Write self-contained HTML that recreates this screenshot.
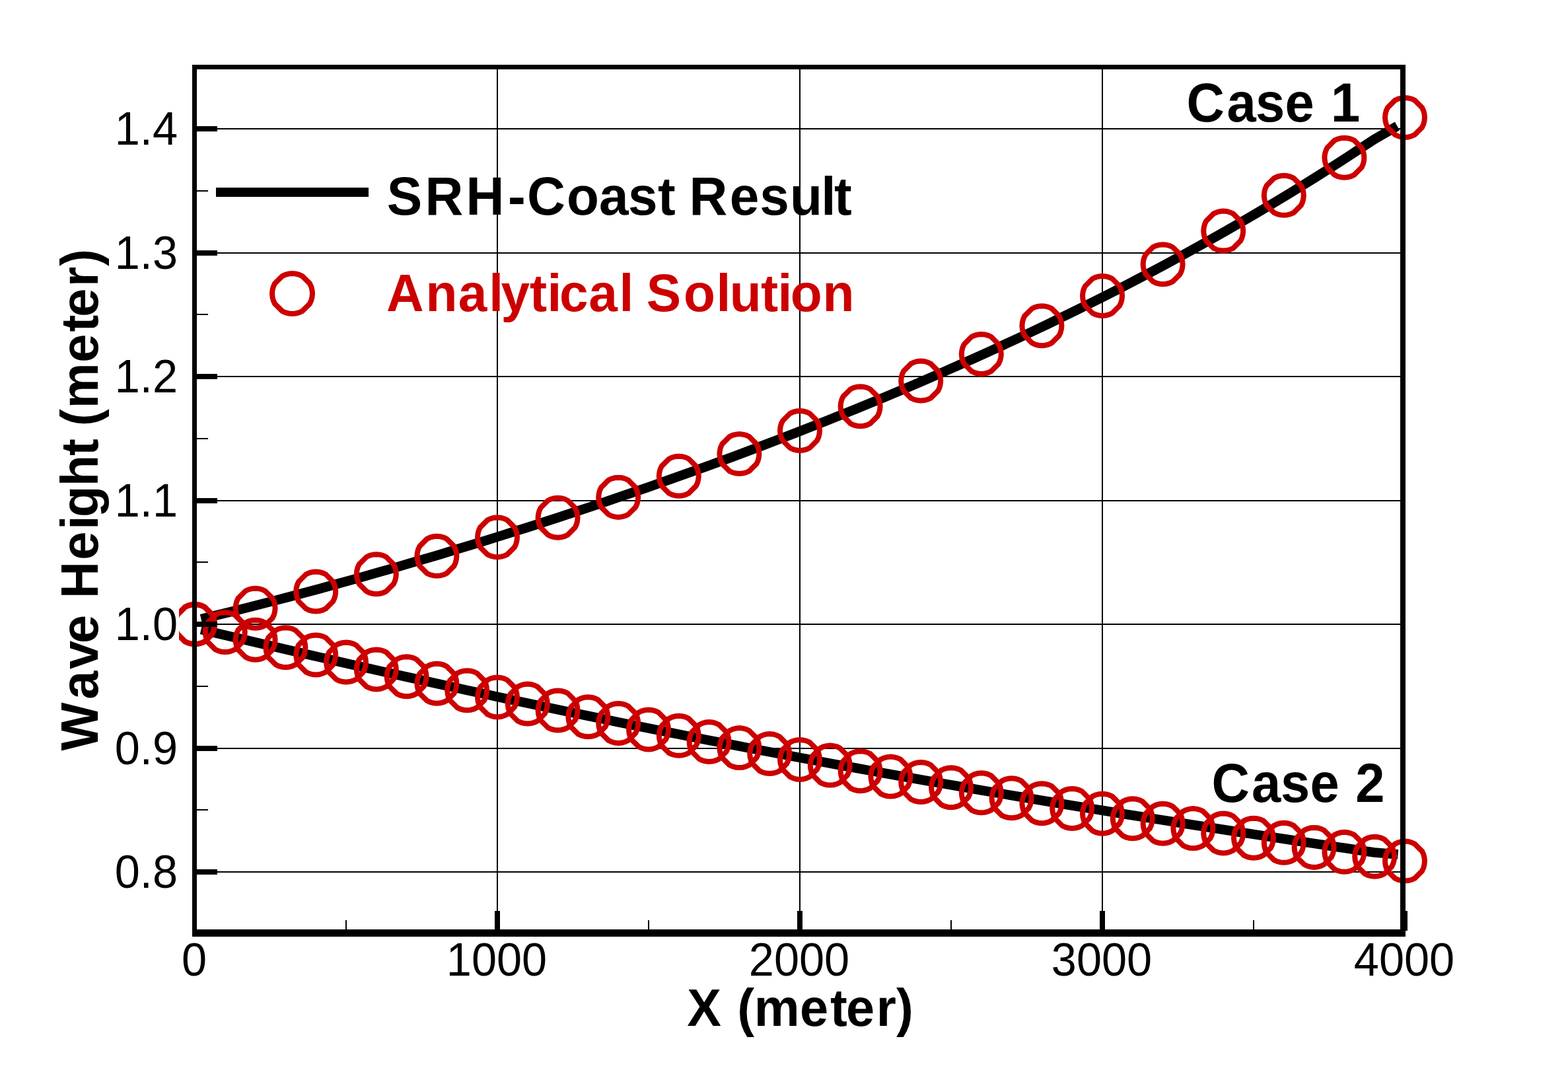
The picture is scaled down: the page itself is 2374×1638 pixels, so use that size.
<!DOCTYPE html><html><head><meta charset="utf-8"><title>Wave Height</title><style>html,body{margin:0;padding:0;background:#fff;width:2374px;height:1638px;overflow:hidden}svg{display:block}text{font-family:"Liberation Sans",Arial,sans-serif}</style></head><body>
<svg width="2374" height="1638" viewBox="0 0 2374 1638">
<rect width="2374" height="1638" fill="#fff"/>
<g fill="#000"><rect x="752.0" y="105" width="2" height="1302"/><rect x="1210.0" y="105" width="2" height="1302"/><rect x="1668.0" y="105" width="2" height="1302"/><rect x="298" y="194" width="1822" height="2"/><rect x="298" y="382" width="1822" height="2"/><rect x="298" y="569" width="1822" height="2"/><rect x="298" y="757" width="1822" height="2"/><rect x="298" y="944" width="1822" height="2"/><rect x="298" y="1132" width="1822" height="2"/><rect x="298" y="1319" width="1822" height="2"/></g>
<clipPath id="cp"><rect x="271" y="0" width="2103" height="1638"/></clipPath>
<polyline points="304.5,937.1 327.0,931.6 349.5,926.1 372.0,920.5 394.4,914.8 416.9,909.0 439.4,903.1 461.9,897.1 484.4,891.1 506.9,884.9 529.3,878.7 551.8,872.5 574.3,866.1 596.8,859.7 619.3,853.1 641.8,846.5 664.3,839.9 686.7,833.1 709.2,826.3 731.7,819.4 754.2,812.4 776.7,805.3 799.2,798.2 821.7,791.0 844.1,783.7 866.6,776.3 889.1,768.9 911.6,761.3 934.1,753.7 956.6,746.0 979.0,738.3 1001.5,730.4 1024.0,722.4 1046.5,714.4 1069.0,706.3 1091.5,698.1 1114.0,689.8 1136.4,681.4 1158.9,672.9 1181.4,664.3 1203.9,655.6 1226.4,646.8 1248.9,638.0 1271.3,629.0 1293.8,619.9 1316.3,610.7 1338.8,601.4 1361.3,591.9 1383.8,582.4 1406.3,572.7 1428.7,562.9 1451.2,553.0 1473.7,543.0 1496.2,532.8 1518.7,522.5 1541.2,512.1 1563.6,501.5 1586.1,490.8 1608.6,479.9 1631.1,468.9 1653.6,457.8 1676.1,446.4 1698.6,434.9 1721.0,423.3 1743.5,411.5 1766.0,399.5 1788.5,387.3 1811.0,374.9 1833.5,362.4 1856.0,349.7 1878.4,336.7 1900.9,323.6 1923.4,310.3 1945.9,296.7 1968.4,283.0 1990.9,269.0 2013.3,254.8 2035.8,240.4 2058.3,225.7 2080.8,210.8 2115.5,190.9" fill="none" stroke="#000" stroke-width="14.6" stroke-linejoin="round"/>
<polyline points="304.5,952.9 327.0,958.3 349.5,963.6 372.0,968.9 394.4,974.2 416.9,979.4 439.4,984.6 461.9,989.8 484.4,995.0 506.9,1000.2 529.3,1005.3 551.8,1010.4 574.3,1015.5 596.8,1020.5 619.3,1025.5 641.8,1030.5 664.3,1035.5 686.7,1040.4 709.2,1045.3 731.7,1050.2 754.2,1055.1 776.7,1059.9 799.2,1064.7 821.7,1069.4 844.1,1074.2 866.6,1078.9 889.1,1083.5 911.6,1088.2 934.1,1092.8 956.6,1097.4 979.0,1101.9 1001.5,1106.4 1024.0,1110.9 1046.5,1115.4 1069.0,1119.8 1091.5,1124.2 1114.0,1128.5 1136.4,1132.9 1158.9,1137.2 1181.4,1141.4 1203.9,1145.7 1226.4,1149.9 1248.9,1154.1 1271.3,1158.2 1293.8,1162.3 1316.3,1166.4 1338.8,1170.5 1361.3,1174.5 1383.8,1178.5 1406.3,1182.5 1428.7,1186.4 1451.2,1190.3 1473.7,1194.2 1496.2,1198.1 1518.7,1201.9 1541.2,1205.7 1563.6,1209.5 1586.1,1213.3 1608.6,1217.0 1631.1,1220.7 1653.6,1224.4 1676.1,1228.0 1698.6,1231.7 1721.0,1235.3 1743.5,1238.9 1766.0,1242.4 1788.5,1246.0 1811.0,1249.5 1833.5,1253.0 1856.0,1256.5 1878.4,1260.0 1900.9,1263.4 1923.4,1266.9 1945.9,1270.3 1968.4,1273.7 1990.9,1277.1 2013.3,1280.5 2035.8,1283.8 2058.3,1287.2 2080.8,1290.5 2116.5,1293.5" fill="none" stroke="#000" stroke-width="14.6" stroke-linejoin="round"/>
<g fill="none" stroke="#cc0000" stroke-width="8" stroke-linejoin="miter" clip-path="url(#cp)"><path d="M325.0 944.8L324.5 939.6L323.2 934.6L321.0 929.8L310.0 918.9L305.3 916.6L300.2 915.3L295.0 914.8L289.8 915.3L284.7 916.6L280.0 918.9L269.0 929.8L266.8 934.6L265.5 939.6L265.0 944.8L265.5 950.0L266.8 955.1L269.0 959.8L280.0 970.8L284.7 973.0L289.8 974.4L295.0 974.8L300.2 974.4L305.3 973.0L310.0 970.8L321.0 959.8L323.2 955.1L324.5 950.0Z"/><path d="M416.6 920.7L416.1 915.5L414.8 910.4L412.6 905.7L401.6 894.7L396.9 892.5L391.8 891.1L386.6 890.7L381.4 891.1L376.3 892.5L371.6 894.7L360.6 905.7L358.4 910.4L357.1 915.5L356.6 920.7L357.1 925.9L358.4 930.9L360.6 935.7L371.6 946.7L376.3 948.9L381.4 950.2L386.6 950.7L391.8 950.2L396.9 948.9L401.6 946.7L412.6 935.7L414.8 930.9L416.1 925.9Z"/><path d="M508.2 895.5L507.7 890.3L506.4 885.2L504.2 880.5L493.2 869.5L488.5 867.3L483.4 865.9L478.2 865.5L473.0 865.9L467.9 867.3L463.2 869.5L452.2 880.5L450.0 885.2L448.7 890.3L448.2 895.5L448.7 900.7L450.0 905.7L452.2 910.5L463.2 921.4L467.9 923.7L473.0 925.0L478.2 925.5L483.4 925.0L488.5 923.7L493.2 921.4L504.2 910.5L506.4 905.7L507.7 900.7Z"/><path d="M599.8 869.2L599.3 864.0L598.0 858.9L595.8 854.2L584.8 843.2L580.1 841.0L575.0 839.6L569.8 839.2L564.6 839.6L559.5 841.0L554.8 843.2L543.8 854.2L541.6 858.9L540.3 864.0L539.8 869.2L540.3 874.4L541.6 879.4L543.8 884.2L554.8 895.2L559.5 897.4L564.6 898.7L569.8 899.2L575.0 898.7L580.1 897.4L584.8 895.2L595.8 884.2L598.0 879.4L599.3 874.4Z"/><path d="M691.4 841.8L690.9 836.6L689.6 831.6L687.4 826.8L676.4 815.8L671.7 813.6L666.6 812.3L661.4 811.8L656.2 812.3L651.1 813.6L646.4 815.8L635.4 826.8L633.2 831.6L631.9 836.6L631.4 841.8L631.9 847.0L633.2 852.1L635.4 856.8L646.4 867.8L651.1 870.0L656.2 871.4L661.4 871.8L666.6 871.4L671.7 870.0L676.4 867.8L687.4 856.8L689.6 852.1L690.9 847.0Z"/><path d="M783.0 813.4L782.5 808.1L781.2 803.1L779.0 798.4L768.0 787.4L763.3 785.2L758.2 783.8L753.0 783.4L747.8 783.8L742.7 785.2L738.0 787.4L727.0 798.4L724.8 803.1L723.5 808.1L723.0 813.4L723.5 818.6L724.8 823.6L727.0 828.4L738.0 839.3L742.7 841.5L747.8 842.9L753.0 843.4L758.2 842.9L763.3 841.5L768.0 839.3L779.0 828.4L781.2 823.6L782.5 818.6Z"/><path d="M874.6 783.7L874.1 778.5L872.8 773.5L870.6 768.7L859.6 757.7L854.9 755.5L849.8 754.2L844.6 753.7L839.4 754.2L834.3 755.5L829.6 757.7L818.6 768.7L816.4 773.5L815.1 778.5L814.6 783.7L815.1 788.9L816.4 794.0L818.6 798.7L829.6 809.7L834.3 811.9L839.4 813.3L844.6 813.7L849.8 813.3L854.9 811.9L859.6 809.7L870.6 798.7L872.8 794.0L874.1 788.9Z"/><path d="M966.2 752.9L965.7 747.7L964.4 742.6L962.2 737.9L951.2 726.9L946.5 724.7L941.4 723.3L936.2 722.9L931.0 723.3L925.9 724.7L921.2 726.9L910.2 737.9L908.0 742.6L906.7 747.7L906.2 752.9L906.7 758.1L908.0 763.1L910.2 767.9L921.2 778.8L925.9 781.1L931.0 782.4L936.2 782.9L941.4 782.4L946.5 781.1L951.2 778.8L962.2 767.9L964.4 763.1L965.7 758.1Z"/><path d="M1057.8 720.7L1057.3 715.5L1056.0 710.4L1053.8 705.7L1042.8 694.7L1038.1 692.5L1033.0 691.1L1027.8 690.7L1022.6 691.1L1017.5 692.5L1012.8 694.7L1001.8 705.7L999.6 710.4L998.3 715.5L997.8 720.7L998.3 725.9L999.6 731.0L1001.8 735.7L1012.8 746.7L1017.5 748.9L1022.6 750.2L1027.8 750.7L1033.0 750.2L1038.1 748.9L1042.8 746.7L1053.8 735.7L1056.0 731.0L1057.3 725.9Z"/><path d="M1149.4 687.1L1148.9 681.9L1147.6 676.8L1145.4 672.1L1134.4 661.1L1129.7 658.9L1124.6 657.6L1119.4 657.1L1114.2 657.6L1109.1 658.9L1104.4 661.1L1093.4 672.1L1091.2 676.8L1089.9 681.9L1089.4 687.1L1089.9 692.3L1091.2 697.4L1093.4 702.1L1104.4 713.1L1109.1 715.3L1114.2 716.6L1119.4 717.1L1124.6 716.6L1129.7 715.3L1134.4 713.1L1145.4 702.1L1147.6 697.4L1148.9 692.3Z"/><path d="M1241.0 652.0L1240.5 646.8L1239.2 641.7L1237.0 637.0L1226.0 626.0L1221.3 623.8L1216.2 622.4L1211.0 622.0L1205.8 622.4L1200.7 623.8L1196.0 626.0L1185.0 637.0L1182.8 641.7L1181.5 646.8L1181.0 652.0L1181.5 657.2L1182.8 662.2L1185.0 667.0L1196.0 678.0L1200.7 680.2L1205.8 681.5L1211.0 682.0L1216.2 681.5L1221.3 680.2L1226.0 678.0L1237.0 667.0L1239.2 662.2L1240.5 657.2Z"/><path d="M1332.6 615.2L1332.1 610.0L1330.8 604.9L1328.6 600.2L1317.6 589.2L1312.9 587.0L1307.8 585.6L1302.6 585.2L1297.4 585.6L1292.3 587.0L1287.6 589.2L1276.6 600.2L1274.4 604.9L1273.1 610.0L1272.6 615.2L1273.1 620.4L1274.4 625.4L1276.6 630.2L1287.6 641.2L1292.3 643.4L1297.4 644.7L1302.6 645.2L1307.8 644.7L1312.9 643.4L1317.6 641.2L1328.6 630.2L1330.8 625.4L1332.1 620.4Z"/><path d="M1424.2 576.6L1423.7 571.4L1422.4 566.3L1420.2 561.6L1409.2 550.6L1404.5 548.4L1399.4 547.0L1394.2 546.6L1389.0 547.0L1383.9 548.4L1379.2 550.6L1368.2 561.6L1366.0 566.3L1364.7 571.4L1364.2 576.6L1364.7 581.8L1366.0 586.8L1368.2 591.6L1379.2 602.6L1383.9 604.8L1389.0 606.1L1394.2 606.6L1399.4 606.1L1404.5 604.8L1409.2 602.6L1420.2 591.6L1422.4 586.8L1423.7 581.8Z"/><path d="M1515.8 536.0L1515.3 530.8L1514.0 525.7L1511.8 521.0L1500.8 510.0L1496.1 507.8L1491.0 506.4L1485.8 506.0L1480.6 506.4L1475.5 507.8L1470.8 510.0L1459.8 521.0L1457.6 525.7L1456.3 530.8L1455.8 536.0L1456.3 541.2L1457.6 546.2L1459.8 551.0L1470.8 561.9L1475.5 564.2L1480.6 565.5L1485.8 566.0L1491.0 565.5L1496.1 564.2L1500.8 561.9L1511.8 551.0L1514.0 546.2L1515.3 541.2Z"/><path d="M1607.4 493.2L1606.9 488.0L1605.6 482.9L1603.4 478.2L1592.4 467.2L1587.7 465.0L1582.6 463.6L1577.4 463.2L1572.2 463.6L1567.1 465.0L1562.4 467.2L1551.4 478.2L1549.2 482.9L1547.9 488.0L1547.4 493.2L1547.9 498.4L1549.2 503.4L1551.4 508.2L1562.4 519.2L1567.1 521.4L1572.2 522.7L1577.4 523.2L1582.6 522.7L1587.7 521.4L1592.4 519.2L1603.4 508.2L1605.6 503.4L1606.9 498.4Z"/><path d="M1699.0 448.0L1698.5 442.8L1697.2 437.7L1695.0 433.0L1684.0 422.0L1679.3 419.8L1674.2 418.4L1669.0 418.0L1663.8 418.4L1658.7 419.8L1654.0 422.0L1643.0 433.0L1640.8 437.7L1639.5 442.8L1639.0 448.0L1639.5 453.2L1640.8 458.3L1643.0 463.0L1654.0 474.0L1658.7 476.2L1663.8 477.5L1669.0 478.0L1674.2 477.5L1679.3 476.2L1684.0 474.0L1695.0 463.0L1697.2 458.3L1698.5 453.2Z"/><path d="M1790.6 400.2L1790.1 395.0L1788.8 389.9L1786.6 385.2L1775.6 374.2L1770.9 372.0L1765.8 370.7L1760.6 370.2L1755.4 370.7L1750.3 372.0L1745.6 374.2L1734.6 385.2L1732.4 389.9L1731.1 395.0L1730.6 400.2L1731.1 405.4L1732.4 410.5L1734.6 415.2L1745.6 426.2L1750.3 428.4L1755.4 429.7L1760.6 430.2L1765.8 429.7L1770.9 428.4L1775.6 426.2L1786.6 415.2L1788.8 410.5L1790.1 405.4Z"/><path d="M1882.2 349.6L1881.7 344.4L1880.4 339.3L1878.2 334.6L1867.2 323.6L1862.5 321.4L1857.4 320.0L1852.2 319.6L1847.0 320.0L1841.9 321.4L1837.2 323.6L1826.2 334.6L1824.0 339.3L1822.7 344.4L1822.2 349.6L1822.7 354.8L1824.0 359.8L1826.2 364.6L1837.2 375.6L1841.9 377.8L1847.0 379.1L1852.2 379.6L1857.4 379.1L1862.5 377.8L1867.2 375.6L1878.2 364.6L1880.4 359.8L1881.7 354.8Z"/><path d="M1973.8 295.8L1973.3 290.6L1972.0 285.6L1969.8 280.8L1958.8 269.9L1954.1 267.6L1949.0 266.3L1943.8 265.8L1938.6 266.3L1933.5 267.6L1928.8 269.9L1917.8 280.8L1915.6 285.6L1914.3 290.6L1913.8 295.8L1914.3 301.0L1915.6 306.1L1917.8 310.8L1928.8 321.8L1933.5 324.0L1938.6 325.4L1943.8 325.8L1949.0 325.4L1954.1 324.0L1958.8 321.8L1969.8 310.8L1972.0 306.1L1973.3 301.0Z"/><path d="M2065.4 238.7L2064.9 233.5L2063.6 228.5L2061.4 223.7L2050.4 212.7L2045.7 210.5L2040.6 209.2L2035.4 208.7L2030.2 209.2L2025.1 210.5L2020.4 212.7L2009.4 223.7L2007.2 228.5L2005.9 233.5L2005.4 238.7L2005.9 243.9L2007.2 249.0L2009.4 253.7L2020.4 264.7L2025.1 266.9L2030.2 268.3L2035.4 268.7L2040.6 268.3L2045.7 266.9L2050.4 264.7L2061.4 253.7L2063.6 249.0L2064.9 243.9Z"/><path d="M2157.0 177.9L2156.5 172.7L2155.2 167.7L2153.0 162.9L2142.0 151.9L2137.3 149.7L2132.2 148.4L2127.0 147.9L2121.8 148.4L2116.7 149.7L2112.0 151.9L2101.0 162.9L2098.8 167.7L2097.5 172.7L2097.0 177.9L2097.5 183.1L2098.8 188.2L2101.0 192.9L2112.0 203.9L2116.7 206.1L2121.8 207.5L2127.0 207.9L2132.2 207.5L2137.3 206.1L2142.0 203.9L2153.0 192.9L2155.2 188.2L2156.5 183.1Z"/><path d="M325.0 945.3L324.5 940.1L323.2 935.1L321.0 930.3L310.0 919.3L305.3 917.1L300.2 915.8L295.0 915.3L289.8 915.8L284.7 917.1L280.0 919.3L269.0 930.3L266.8 935.1L265.5 940.1L265.0 945.3L265.5 950.5L266.8 955.6L269.0 960.3L280.0 971.3L284.7 973.5L289.8 974.9L295.0 975.3L300.2 974.9L305.3 973.5L310.0 971.3L321.0 960.3L323.2 955.6L324.5 950.5Z"/><path d="M370.8 957.1L370.3 951.9L369.0 946.9L366.8 942.1L355.8 931.1L351.1 928.9L346.0 927.6L340.8 927.1L335.6 927.6L330.5 928.9L325.8 931.1L314.8 942.1L312.6 946.9L311.3 951.9L310.8 957.1L311.3 962.3L312.6 967.4L314.8 972.1L325.8 983.1L330.5 985.3L335.6 986.7L340.8 987.1L346.0 986.7L351.1 985.3L355.8 983.1L366.8 972.1L369.0 967.4L370.3 962.3Z"/><path d="M416.6 968.7L416.1 963.5L414.8 958.5L412.6 953.7L401.6 942.8L396.9 940.5L391.8 939.2L386.6 938.7L381.4 939.2L376.3 940.5L371.6 942.8L360.6 953.7L358.4 958.5L357.1 963.5L356.6 968.7L357.1 973.9L358.4 979.0L360.6 983.7L371.6 994.7L376.3 996.9L381.4 998.3L386.6 998.7L391.8 998.3L396.9 996.9L401.6 994.7L412.6 983.7L414.8 979.0L416.1 973.9Z"/><path d="M462.4 980.2L461.9 975.0L460.6 969.9L458.4 965.2L447.4 954.2L442.7 952.0L437.6 950.6L432.4 950.2L427.2 950.6L422.1 952.0L417.4 954.2L406.4 965.2L404.2 969.9L402.9 975.0L402.4 980.2L402.9 985.4L404.2 990.4L406.4 995.2L417.4 1006.2L422.1 1008.4L427.2 1009.7L432.4 1010.2L437.6 1009.7L442.7 1008.4L447.4 1006.2L458.4 995.2L460.6 990.4L461.9 985.4Z"/><path d="M508.2 991.4L507.7 986.2L506.4 981.2L504.2 976.4L493.2 965.4L488.5 963.2L483.4 961.9L478.2 961.4L473.0 961.9L467.9 963.2L463.2 965.4L452.2 976.4L450.0 981.2L448.7 986.2L448.2 991.4L448.7 996.6L450.0 1001.7L452.2 1006.4L463.2 1017.4L467.9 1019.6L473.0 1021.0L478.2 1021.4L483.4 1021.0L488.5 1019.6L493.2 1017.4L504.2 1006.4L506.4 1001.7L507.7 996.6Z"/><path d="M554.0 1002.5L553.5 997.3L552.2 992.3L550.0 987.5L539.0 976.5L534.3 974.3L529.2 973.0L524.0 972.5L518.8 973.0L513.7 974.3L509.0 976.5L498.0 987.5L495.8 992.3L494.5 997.3L494.0 1002.5L494.5 1007.7L495.8 1012.8L498.0 1017.5L509.0 1028.5L513.7 1030.7L518.8 1032.1L524.0 1032.5L529.2 1032.1L534.3 1030.7L539.0 1028.5L550.0 1017.5L552.2 1012.8L553.5 1007.7Z"/><path d="M599.8 1013.4L599.3 1008.2L598.0 1003.2L595.8 998.4L584.8 987.4L580.1 985.2L575.0 983.9L569.8 983.4L564.6 983.9L559.5 985.2L554.8 987.4L543.8 998.4L541.6 1003.2L540.3 1008.2L539.8 1013.4L540.3 1018.6L541.6 1023.7L543.8 1028.4L554.8 1039.4L559.5 1041.6L564.6 1043.0L569.8 1043.4L575.0 1043.0L580.1 1041.6L584.8 1039.4L595.8 1028.4L598.0 1023.7L599.3 1018.6Z"/><path d="M645.6 1024.2L645.1 1019.0L643.8 1013.9L641.6 1009.2L630.6 998.2L625.9 996.0L620.8 994.6L615.6 994.2L610.4 994.6L605.3 996.0L600.6 998.2L589.6 1009.2L587.4 1013.9L586.1 1019.0L585.6 1024.2L586.1 1029.4L587.4 1034.4L589.6 1039.2L600.6 1050.2L605.3 1052.4L610.4 1053.7L615.6 1054.2L620.8 1053.7L625.9 1052.4L630.6 1050.2L641.6 1039.2L643.8 1034.4L645.1 1029.4Z"/><path d="M691.4 1034.8L690.9 1029.5L689.6 1024.5L687.4 1019.8L676.4 1008.8L671.7 1006.6L666.6 1005.2L661.4 1004.8L656.2 1005.2L651.1 1006.6L646.4 1008.8L635.4 1019.8L633.2 1024.5L631.9 1029.5L631.4 1034.8L631.9 1040.0L633.2 1045.0L635.4 1049.8L646.4 1060.7L651.1 1062.9L656.2 1064.3L661.4 1064.8L666.6 1064.3L671.7 1062.9L676.4 1060.7L687.4 1049.8L689.6 1045.0L690.9 1040.0Z"/><path d="M737.2 1045.2L736.7 1040.0L735.4 1034.9L733.2 1030.2L722.2 1019.2L717.5 1017.0L712.4 1015.6L707.2 1015.2L702.0 1015.6L696.9 1017.0L692.2 1019.2L681.2 1030.2L679.0 1034.9L677.7 1040.0L677.2 1045.2L677.7 1050.4L679.0 1055.4L681.2 1060.2L692.2 1071.2L696.9 1073.4L702.0 1074.7L707.2 1075.2L712.4 1074.7L717.5 1073.4L722.2 1071.2L733.2 1060.2L735.4 1055.4L736.7 1050.4Z"/><path d="M783.0 1055.4L782.5 1050.2L781.2 1045.2L779.0 1040.4L768.0 1029.5L763.3 1027.2L758.2 1025.9L753.0 1025.4L747.8 1025.9L742.7 1027.2L738.0 1029.5L727.0 1040.4L724.8 1045.2L723.5 1050.2L723.0 1055.4L723.5 1060.6L724.8 1065.7L727.0 1070.4L738.0 1081.4L742.7 1083.6L747.8 1085.0L753.0 1085.4L758.2 1085.0L763.3 1083.6L768.0 1081.4L779.0 1070.4L781.2 1065.7L782.5 1060.6Z"/><path d="M828.8 1065.5L828.3 1060.3L827.0 1055.3L824.8 1050.5L813.8 1039.6L809.1 1037.4L804.0 1036.0L798.8 1035.5L793.6 1036.0L788.5 1037.4L783.8 1039.6L772.8 1050.5L770.6 1055.3L769.3 1060.3L768.8 1065.5L769.3 1070.8L770.6 1075.8L772.8 1080.5L783.8 1091.5L788.5 1093.7L793.6 1095.1L798.8 1095.5L804.0 1095.1L809.1 1093.7L813.8 1091.5L824.8 1080.5L827.0 1075.8L828.3 1070.8Z"/><path d="M874.6 1075.5L874.1 1070.3L872.8 1065.2L870.6 1060.5L859.6 1049.5L854.9 1047.3L849.8 1045.9L844.6 1045.5L839.4 1045.9L834.3 1047.3L829.6 1049.5L818.6 1060.5L816.4 1065.2L815.1 1070.3L814.6 1075.5L815.1 1080.7L816.4 1085.8L818.6 1090.5L829.6 1101.5L834.3 1103.7L839.4 1105.0L844.6 1105.5L849.8 1105.0L854.9 1103.7L859.6 1101.5L870.6 1090.5L872.8 1085.8L874.1 1080.7Z"/><path d="M920.4 1085.3L919.9 1080.1L918.6 1075.0L916.4 1070.3L905.4 1059.3L900.7 1057.1L895.6 1055.7L890.4 1055.3L885.2 1055.7L880.1 1057.1L875.4 1059.3L864.4 1070.3L862.2 1075.0L860.9 1080.1L860.4 1085.3L860.9 1090.5L862.2 1095.6L864.4 1100.3L875.4 1111.3L880.1 1113.5L885.2 1114.8L890.4 1115.3L895.6 1114.8L900.7 1113.5L905.4 1111.3L916.4 1100.3L918.6 1095.6L919.9 1090.5Z"/><path d="M966.2 1094.9L965.7 1089.7L964.4 1084.7L962.2 1079.9L951.2 1069.0L946.5 1066.8L941.4 1065.4L936.2 1064.9L931.0 1065.4L925.9 1066.8L921.2 1069.0L910.2 1079.9L908.0 1084.7L906.7 1089.7L906.2 1094.9L906.7 1100.2L908.0 1105.2L910.2 1109.9L921.2 1120.9L925.9 1123.1L931.0 1124.5L936.2 1124.9L941.4 1124.5L946.5 1123.1L951.2 1120.9L962.2 1109.9L964.4 1105.2L965.7 1100.2Z"/><path d="M1012.0 1104.5L1011.5 1099.2L1010.2 1094.2L1008.0 1089.5L997.0 1078.5L992.3 1076.3L987.2 1074.9L982.0 1074.5L976.8 1074.9L971.7 1076.3L967.0 1078.5L956.0 1089.5L953.8 1094.2L952.5 1099.2L952.0 1104.5L952.5 1109.7L953.8 1114.7L956.0 1119.5L967.0 1130.4L971.7 1132.6L976.8 1134.0L982.0 1134.5L987.2 1134.0L992.3 1132.6L997.0 1130.4L1008.0 1119.5L1010.2 1114.7L1011.5 1109.7Z"/><path d="M1057.8 1113.8L1057.3 1108.6L1056.0 1103.6L1053.8 1098.8L1042.8 1087.8L1038.1 1085.6L1033.0 1084.3L1027.8 1083.8L1022.6 1084.3L1017.5 1085.6L1012.8 1087.8L1001.8 1098.8L999.6 1103.6L998.3 1108.6L997.8 1113.8L998.3 1119.0L999.6 1124.1L1001.8 1128.8L1012.8 1139.8L1017.5 1142.0L1022.6 1143.4L1027.8 1143.8L1033.0 1143.4L1038.1 1142.0L1042.8 1139.8L1053.8 1128.8L1056.0 1124.1L1057.3 1119.0Z"/><path d="M1103.6 1123.0L1103.1 1117.8L1101.8 1112.8L1099.6 1108.0L1088.6 1097.1L1083.9 1094.9L1078.8 1093.5L1073.6 1093.0L1068.4 1093.5L1063.3 1094.9L1058.6 1097.1L1047.6 1108.0L1045.4 1112.8L1044.1 1117.8L1043.6 1123.0L1044.1 1128.3L1045.4 1133.3L1047.6 1138.0L1058.6 1149.0L1063.3 1151.2L1068.4 1152.6L1073.6 1153.0L1078.8 1152.6L1083.9 1151.2L1088.6 1149.0L1099.6 1138.0L1101.8 1133.3L1103.1 1128.3Z"/><path d="M1149.4 1132.1L1148.9 1126.9L1147.6 1121.9L1145.4 1117.1L1134.4 1106.2L1129.7 1103.9L1124.6 1102.6L1119.4 1102.1L1114.2 1102.6L1109.1 1103.9L1104.4 1106.2L1093.4 1117.1L1091.2 1121.9L1089.9 1126.9L1089.4 1132.1L1089.9 1137.3L1091.2 1142.4L1093.4 1147.1L1104.4 1158.1L1109.1 1160.3L1114.2 1161.7L1119.4 1162.1L1124.6 1161.7L1129.7 1160.3L1134.4 1158.1L1145.4 1147.1L1147.6 1142.4L1148.9 1137.3Z"/><path d="M1195.2 1141.1L1194.7 1135.9L1193.4 1130.8L1191.2 1126.1L1180.2 1115.1L1175.5 1112.9L1170.4 1111.5L1165.2 1111.1L1160.0 1111.5L1154.9 1112.9L1150.2 1115.1L1139.2 1126.1L1137.0 1130.8L1135.7 1135.9L1135.2 1141.1L1135.7 1146.3L1137.0 1151.4L1139.2 1156.1L1150.2 1167.1L1154.9 1169.3L1160.0 1170.6L1165.2 1171.1L1170.4 1170.6L1175.5 1169.3L1180.2 1167.1L1191.2 1156.1L1193.4 1151.4L1194.7 1146.3Z"/><path d="M1241.0 1149.9L1240.5 1144.7L1239.2 1139.7L1237.0 1134.9L1226.0 1123.9L1221.3 1121.7L1216.2 1120.4L1211.0 1119.9L1205.8 1120.4L1200.7 1121.7L1196.0 1123.9L1185.0 1134.9L1182.8 1139.7L1181.5 1144.7L1181.0 1149.9L1181.5 1155.1L1182.8 1160.2L1185.0 1164.9L1196.0 1175.9L1200.7 1178.1L1205.8 1179.5L1211.0 1179.9L1216.2 1179.5L1221.3 1178.1L1226.0 1175.9L1237.0 1164.9L1239.2 1160.2L1240.5 1155.1Z"/><path d="M1286.8 1158.6L1286.3 1153.4L1285.0 1148.4L1282.8 1143.6L1271.8 1132.6L1267.1 1130.4L1262.0 1129.1L1256.8 1128.6L1251.6 1129.1L1246.5 1130.4L1241.8 1132.6L1230.8 1143.6L1228.6 1148.4L1227.3 1153.4L1226.8 1158.6L1227.3 1163.8L1228.6 1168.9L1230.8 1173.6L1241.8 1184.6L1246.5 1186.8L1251.6 1188.2L1256.8 1188.6L1262.0 1188.2L1267.1 1186.8L1271.8 1184.6L1282.8 1173.6L1285.0 1168.9L1286.3 1163.8Z"/><path d="M1332.6 1167.2L1332.1 1162.0L1330.8 1156.9L1328.6 1152.2L1317.6 1141.2L1312.9 1139.0L1307.8 1137.6L1302.6 1137.2L1297.4 1137.6L1292.3 1139.0L1287.6 1141.2L1276.6 1152.2L1274.4 1156.9L1273.1 1162.0L1272.6 1167.2L1273.1 1172.4L1274.4 1177.5L1276.6 1182.2L1287.6 1193.2L1292.3 1195.4L1297.4 1196.7L1302.6 1197.2L1307.8 1196.7L1312.9 1195.4L1317.6 1193.2L1328.6 1182.2L1330.8 1177.5L1332.1 1172.4Z"/><path d="M1378.4 1175.6L1377.9 1170.4L1376.6 1165.4L1374.4 1160.6L1363.4 1149.7L1358.7 1147.5L1353.6 1146.1L1348.4 1145.6L1343.2 1146.1L1338.1 1147.5L1333.4 1149.7L1322.4 1160.6L1320.2 1165.4L1318.9 1170.4L1318.4 1175.6L1318.9 1180.9L1320.2 1185.9L1322.4 1190.6L1333.4 1201.6L1338.1 1203.8L1343.2 1205.2L1348.4 1205.6L1353.6 1205.2L1358.7 1203.8L1363.4 1201.6L1374.4 1190.6L1376.6 1185.9L1377.9 1180.9Z"/><path d="M1424.2 1184.0L1423.7 1178.8L1422.4 1173.7L1420.2 1169.0L1409.2 1158.0L1404.5 1155.8L1399.4 1154.4L1394.2 1154.0L1389.0 1154.4L1383.9 1155.8L1379.2 1158.0L1368.2 1169.0L1366.0 1173.7L1364.7 1178.8L1364.2 1184.0L1364.7 1189.2L1366.0 1194.2L1368.2 1199.0L1379.2 1210.0L1383.9 1212.2L1389.0 1213.5L1394.2 1214.0L1399.4 1213.5L1404.5 1212.2L1409.2 1210.0L1420.2 1199.0L1422.4 1194.2L1423.7 1189.2Z"/><path d="M1470.0 1192.2L1469.5 1187.0L1468.2 1181.9L1466.0 1177.2L1455.0 1166.2L1450.3 1164.0L1445.2 1162.7L1440.0 1162.2L1434.8 1162.7L1429.7 1164.0L1425.0 1166.2L1414.0 1177.2L1411.8 1181.9L1410.5 1187.0L1410.0 1192.2L1410.5 1197.4L1411.8 1202.5L1414.0 1207.2L1425.0 1218.2L1429.7 1220.4L1434.8 1221.7L1440.0 1222.2L1445.2 1221.7L1450.3 1220.4L1455.0 1218.2L1466.0 1207.2L1468.2 1202.5L1469.5 1197.4Z"/><path d="M1515.8 1200.3L1515.3 1195.1L1514.0 1190.0L1511.8 1185.3L1500.8 1174.3L1496.1 1172.1L1491.0 1170.8L1485.8 1170.3L1480.6 1170.8L1475.5 1172.1L1470.8 1174.3L1459.8 1185.3L1457.6 1190.0L1456.3 1195.1L1455.8 1200.3L1456.3 1205.5L1457.6 1210.6L1459.8 1215.3L1470.8 1226.3L1475.5 1228.5L1480.6 1229.9L1485.8 1230.3L1491.0 1229.9L1496.1 1228.5L1500.8 1226.3L1511.8 1215.3L1514.0 1210.6L1515.3 1205.5Z"/><path d="M1561.6 1208.3L1561.1 1203.1L1559.8 1198.0L1557.6 1193.3L1546.6 1182.3L1541.9 1180.1L1536.8 1178.8L1531.6 1178.3L1526.4 1178.8L1521.3 1180.1L1516.6 1182.3L1505.6 1193.3L1503.4 1198.0L1502.1 1203.1L1501.6 1208.3L1502.1 1213.5L1503.4 1218.6L1505.6 1223.3L1516.6 1234.3L1521.3 1236.5L1526.4 1237.8L1531.6 1238.3L1536.8 1237.8L1541.9 1236.5L1546.6 1234.3L1557.6 1223.3L1559.8 1218.6L1561.1 1213.5Z"/><path d="M1607.4 1216.2L1606.9 1211.0L1605.6 1205.9L1603.4 1201.2L1592.4 1190.2L1587.7 1188.0L1582.6 1186.7L1577.4 1186.2L1572.2 1186.7L1567.1 1188.0L1562.4 1190.2L1551.4 1201.2L1549.2 1205.9L1547.9 1211.0L1547.4 1216.2L1547.9 1221.4L1549.2 1226.5L1551.4 1231.2L1562.4 1242.2L1567.1 1244.4L1572.2 1245.7L1577.4 1246.2L1582.6 1245.7L1587.7 1244.4L1592.4 1242.2L1603.4 1231.2L1605.6 1226.5L1606.9 1221.4Z"/><path d="M1653.2 1224.0L1652.7 1218.8L1651.4 1213.7L1649.2 1209.0L1638.2 1198.0L1633.5 1195.8L1628.4 1194.4L1623.2 1194.0L1618.0 1194.4L1612.9 1195.8L1608.2 1198.0L1597.2 1209.0L1595.0 1213.7L1593.7 1218.8L1593.2 1224.0L1593.7 1229.2L1595.0 1234.2L1597.2 1239.0L1608.2 1250.0L1612.9 1252.2L1618.0 1253.5L1623.2 1254.0L1628.4 1253.5L1633.5 1252.2L1638.2 1250.0L1649.2 1239.0L1651.4 1234.2L1652.7 1229.2Z"/><path d="M1699.0 1231.7L1698.5 1226.5L1697.2 1221.4L1695.0 1216.7L1684.0 1205.7L1679.3 1203.5L1674.2 1202.1L1669.0 1201.7L1663.8 1202.1L1658.7 1203.5L1654.0 1205.7L1643.0 1216.7L1640.8 1221.4L1639.5 1226.5L1639.0 1231.7L1639.5 1236.9L1640.8 1241.9L1643.0 1246.7L1654.0 1257.6L1658.7 1259.9L1663.8 1261.2L1669.0 1261.7L1674.2 1261.2L1679.3 1259.9L1684.0 1257.6L1695.0 1246.7L1697.2 1241.9L1698.5 1236.9Z"/><path d="M1744.8 1239.3L1744.3 1234.0L1743.0 1229.0L1740.8 1224.3L1729.8 1213.3L1725.1 1211.1L1720.0 1209.7L1714.8 1209.3L1709.6 1209.7L1704.5 1211.1L1699.8 1213.3L1688.8 1224.3L1686.6 1229.0L1685.3 1234.0L1684.8 1239.3L1685.3 1244.5L1686.6 1249.5L1688.8 1254.3L1699.8 1265.2L1704.5 1267.4L1709.6 1268.8L1714.8 1269.3L1720.0 1268.8L1725.1 1267.4L1729.8 1265.2L1740.8 1254.3L1743.0 1249.5L1744.3 1244.5Z"/><path d="M1790.6 1246.7L1790.1 1241.5L1788.8 1236.5L1786.6 1231.7L1775.6 1220.8L1770.9 1218.6L1765.8 1217.2L1760.6 1216.7L1755.4 1217.2L1750.3 1218.6L1745.6 1220.8L1734.6 1231.7L1732.4 1236.5L1731.1 1241.5L1730.6 1246.7L1731.1 1252.0L1732.4 1257.0L1734.6 1261.7L1745.6 1272.7L1750.3 1274.9L1755.4 1276.3L1760.6 1276.7L1765.8 1276.3L1770.9 1274.9L1775.6 1272.7L1786.6 1261.7L1788.8 1257.0L1790.1 1252.0Z"/><path d="M1836.4 1254.1L1835.9 1248.9L1834.6 1243.9L1832.4 1239.1L1821.4 1228.2L1816.7 1226.0L1811.6 1224.6L1806.4 1224.1L1801.2 1224.6L1796.1 1226.0L1791.4 1228.2L1780.4 1239.1L1778.2 1243.9L1776.9 1248.9L1776.4 1254.1L1776.9 1259.4L1778.2 1264.4L1780.4 1269.1L1791.4 1280.1L1796.1 1282.3L1801.2 1283.7L1806.4 1284.1L1811.6 1283.7L1816.7 1282.3L1821.4 1280.1L1832.4 1269.1L1834.6 1264.4L1835.9 1259.4Z"/><path d="M1882.2 1261.4L1881.7 1256.2L1880.4 1251.2L1878.2 1246.4L1867.2 1235.5L1862.5 1233.3L1857.4 1231.9L1852.2 1231.4L1847.0 1231.9L1841.9 1233.3L1837.2 1235.5L1826.2 1246.4L1824.0 1251.2L1822.7 1256.2L1822.2 1261.4L1822.7 1266.7L1824.0 1271.7L1826.2 1276.4L1837.2 1287.4L1841.9 1289.6L1847.0 1291.0L1852.2 1291.4L1857.4 1291.0L1862.5 1289.6L1867.2 1287.4L1878.2 1276.4L1880.4 1271.7L1881.7 1266.7Z"/><path d="M1928.0 1268.7L1927.5 1263.5L1926.2 1258.4L1924.0 1253.7L1913.0 1242.7L1908.3 1240.5L1903.2 1239.1L1898.0 1238.7L1892.8 1239.1L1887.7 1240.5L1883.0 1242.7L1872.0 1253.7L1869.8 1258.4L1868.5 1263.5L1868.0 1268.7L1868.5 1273.9L1869.8 1278.9L1872.0 1283.7L1883.0 1294.7L1887.7 1296.9L1892.8 1298.2L1898.0 1298.7L1903.2 1298.2L1908.3 1296.9L1913.0 1294.7L1924.0 1283.7L1926.2 1278.9L1927.5 1273.9Z"/><path d="M1973.8 1275.8L1973.3 1270.6L1972.0 1265.5L1969.8 1260.8L1958.8 1249.8L1954.1 1247.6L1949.0 1246.3L1943.8 1245.8L1938.6 1246.3L1933.5 1247.6L1928.8 1249.8L1917.8 1260.8L1915.6 1265.5L1914.3 1270.6L1913.8 1275.8L1914.3 1281.0L1915.6 1286.1L1917.8 1290.8L1928.8 1301.8L1933.5 1304.0L1938.6 1305.4L1943.8 1305.8L1949.0 1305.4L1954.1 1304.0L1958.8 1301.8L1969.8 1290.8L1972.0 1286.1L1973.3 1281.0Z"/><path d="M2019.6 1282.9L2019.1 1277.7L2017.8 1272.6L2015.6 1267.9L2004.6 1256.9L1999.9 1254.7L1994.8 1253.3L1989.6 1252.9L1984.4 1253.3L1979.3 1254.7L1974.6 1256.9L1963.6 1267.9L1961.4 1272.6L1960.1 1277.7L1959.6 1282.9L1960.1 1288.1L1961.4 1293.1L1963.6 1297.9L1974.6 1308.8L1979.3 1311.1L1984.4 1312.4L1989.6 1312.9L1994.8 1312.4L1999.9 1311.1L2004.6 1308.8L2015.6 1297.9L2017.8 1293.1L2019.1 1288.1Z"/><path d="M2065.4 1289.8L2064.9 1284.6L2063.6 1279.6L2061.4 1274.8L2050.4 1263.9L2045.7 1261.7L2040.6 1260.3L2035.4 1259.8L2030.2 1260.3L2025.1 1261.7L2020.4 1263.9L2009.4 1274.8L2007.2 1279.6L2005.9 1284.6L2005.4 1289.8L2005.9 1295.1L2007.2 1300.1L2009.4 1304.8L2020.4 1315.8L2025.1 1318.0L2030.2 1319.4L2035.4 1319.8L2040.6 1319.4L2045.7 1318.0L2050.4 1315.8L2061.4 1304.8L2063.6 1300.1L2064.9 1295.1Z"/><path d="M2111.2 1296.8L2110.7 1291.5L2109.4 1286.5L2107.2 1281.8L2096.2 1270.8L2091.5 1268.6L2086.4 1267.2L2081.2 1266.8L2076.0 1267.2L2070.9 1268.6L2066.2 1270.8L2055.2 1281.8L2053.0 1286.5L2051.7 1291.5L2051.2 1296.8L2051.7 1302.0L2053.0 1307.0L2055.2 1311.8L2066.2 1322.7L2070.9 1324.9L2076.0 1326.3L2081.2 1326.8L2086.4 1326.3L2091.5 1324.9L2096.2 1322.7L2107.2 1311.8L2109.4 1307.0L2110.7 1302.0Z"/><path d="M2157.0 1303.6L2156.5 1298.4L2155.2 1293.3L2153.0 1288.6L2142.0 1277.6L2137.3 1275.4L2132.2 1274.0L2127.0 1273.6L2121.8 1274.0L2116.7 1275.4L2112.0 1277.6L2101.0 1288.6L2098.8 1293.3L2097.5 1298.4L2097.0 1303.6L2097.5 1308.8L2098.8 1313.8L2101.0 1318.6L2112.0 1329.6L2116.7 1331.8L2121.8 1333.1L2127.0 1333.6L2132.2 1333.1L2137.3 1331.8L2142.0 1329.6L2153.0 1318.6L2155.2 1313.8L2156.5 1308.8Z"/></g>
<g fill="#000"><rect x="291" y="98" width="1837" height="7"/><rect x="291" y="98" width="7" height="1320"/><rect x="2120" y="98" width="8" height="1320"/><rect x="291" y="1407" width="1837" height="11"/><rect x="749" y="1379" width="8" height="30"/><rect x="1207" y="1379" width="8" height="30"/><rect x="1665" y="1379" width="8" height="30"/><rect x="2123" y="1379" width="8" height="30"/><rect x="523.0" y="1393" width="2" height="15"/><rect x="981.0" y="1393" width="2" height="15"/><rect x="1439.0" y="1393" width="2" height="15"/><rect x="1897.0" y="1393" width="2" height="15"/><rect x="297" y="191" width="32" height="8"/><rect x="297" y="379" width="32" height="8"/><rect x="297" y="566" width="32" height="8"/><rect x="297" y="754" width="32" height="8"/><rect x="297" y="941" width="32" height="8"/><rect x="297" y="1129" width="32" height="8"/><rect x="297" y="1316" width="32" height="8"/><rect x="297" y="288" width="18" height="2"/><rect x="297" y="475" width="18" height="2"/><rect x="297" y="663" width="18" height="2"/><rect x="297" y="850" width="18" height="2"/><rect x="297" y="1038" width="18" height="2"/><rect x="297" y="1225" width="18" height="2"/></g>
<g font-size="68.5" fill="#000"><text transform="translate(269,219.0) scale(1,1.04)" text-anchor="end">1.4</text><text transform="translate(269,406.5) scale(1,1.04)" text-anchor="end">1.3</text><text transform="translate(269,594.0) scale(1,1.04)" text-anchor="end">1.2</text><text transform="translate(269,781.5) scale(1,1.04)" text-anchor="end">1.1</text><text transform="translate(269,969.0) scale(1,1.04)" text-anchor="end">1.0</text><text transform="translate(269,1156.5) scale(1,1.04)" text-anchor="end">0.9</text><text transform="translate(269,1344.0) scale(1,1.04)" text-anchor="end">0.8</text><text transform="translate(294.0,1477) scale(1,1.04)" text-anchor="middle">0</text><text transform="translate(752.0,1477) scale(1,1.04)" text-anchor="middle">1000</text><text transform="translate(1210.0,1477) scale(1,1.04)" text-anchor="middle">2000</text><text transform="translate(1668.0,1477) scale(1,1.04)" text-anchor="middle">3000</text><text transform="translate(2126.0,1477) scale(1,1.04)" text-anchor="middle">4000</text></g>
<rect x="327" y="284" width="231" height="14" fill="#000"/>
<g fill="none" stroke="#cc0000" stroke-width="8" stroke-linejoin="miter"><path d="M473.0 444.5L472.5 439.2L471.2 434.1L468.9 429.2L457.8 418.1L452.9 415.8L447.8 414.5L442.5 414.0L437.2 414.5L432.1 415.8L427.2 418.1L416.1 429.2L413.8 434.1L412.5 439.2L412.0 444.5L412.5 449.8L413.8 454.9L416.1 459.8L427.2 470.9L432.1 473.2L437.2 474.5L442.5 475.0L447.8 474.5L452.9 473.2L457.8 470.9L468.9 459.8L471.2 454.9L472.5 449.8Z"/></g>
<g font-weight="bold">
<text transform="translate(0,324.9) scale(1,1.0250)" x="585.7 643.5 705.6 768.9 797.9 858.1 906.9 951.1 996.1 1022.8 1043.6 1104.7 1150.2 1196.0 1243.3 1263.0" y="0" font-size="80.20" fill="#000">SRH-Coast Result</text>
<text transform="translate(0,470.8) scale(1,1.0250)" x="585.0 644.5 693.7 740.3 758.4 801.9 828.5 846.9 891.3 937.5 959.3 978.8 1034.9 1084.5 1104.8 1152.0 1177.4 1196.7 1245.5" y="0" font-size="78.50" fill="#cc0000">Analytical Solution</text>
<text transform="translate(0,184.2) scale(1,1.0400)" x="1796.4 1857.5 1901.1 1945.5 1989.7 2014.9" y="0" font-size="79.50" fill="#000">Case 1</text>
<text transform="translate(0,1213.9) scale(1,1.0400)" x="1834.6 1894.9 1939.1 1983.6 2027.8 2052.2" y="0" font-size="79.50" fill="#000">Case 2</text>
<text transform="translate(0,1552.8) scale(1,1.0250)" x="1040.3 1092.0 1116.3 1141.7 1210.9 1257.0 1281.0 1326.7 1357.0" y="0" font-size="77.50" fill="#000">X (meter)</text>
<text transform="translate(148.1,0) rotate(-90) scale(1,1.0300)" x="-1136.6 -1058.8 -1013.1 -974.0 -930.9 -906.0 -847.8 -802.0 -783.1 -736.2 -690.0 -664.2 -645.1 -618.2 -548.8 -502.6 -479.8 -433.9 -402.8" y="0" font-size="77.50" fill="#000">Wave Height (meter)</text>
</g>
</svg></body></html>
